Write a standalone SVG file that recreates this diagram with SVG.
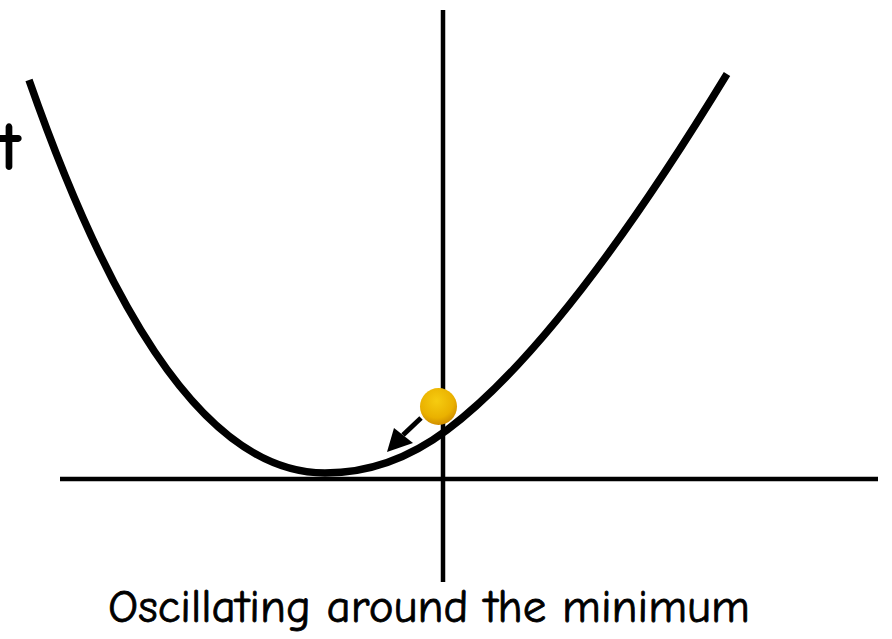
<svg xmlns="http://www.w3.org/2000/svg" width="892" height="639" viewBox="0 0 892 639">
<style>
.axis{stroke:#000;stroke-width:4.5;fill:none}
.curve{stroke:#000;stroke-width:7.5;fill:none;stroke-linejoin:round}
.lbl{font-family:"Comic Neue","Noto Sans","Liberation Sans",sans-serif;fill:#000}
</style>
<defs>
<radialGradient id="ballg" cx="0.45" cy="0.35" r="0.65">
<stop offset="0" stop-color="#f6cc10"/>
<stop offset="0.7" stop-color="#eab100"/>
<stop offset="1" stop-color="#d08e00"/>
</radialGradient>
</defs>
<rect width="892" height="639" fill="#fff"/>
<g id="axes">
<line class="axis" x1="443" y1="10" x2="443" y2="582"/>
<line class="axis" x1="60" y1="479" x2="878" y2="479"/>
</g>
<g id="curve">
<path class="curve" d="M29,80 C99,280 195,473 325,473 C365,473 407,460 447,430 C524.3,372 617.7,253.3 727,74"/>
</g>
<g id="ball">
<circle cx="438.5" cy="406.5" r="18.5" fill="url(#ballg)"/>
</g>
<g id="connectors">
<line x1="421" y1="418" x2="403" y2="435" stroke="#000" stroke-width="5"/>
<polygon points="387,452 394,428 413,443" fill="#000"/>
</g>
<g id="labels">
<text class="lbl" x="21" y="170" font-size="70" font-weight="bold" text-anchor="end">t</text>
<text class="lbl" x="108" y="622" font-size="47" stroke="#000" stroke-width="0.8" textLength="642" lengthAdjust="spacingAndGlyphs">Oscillating around the minimum</text>
</g>
</svg>
